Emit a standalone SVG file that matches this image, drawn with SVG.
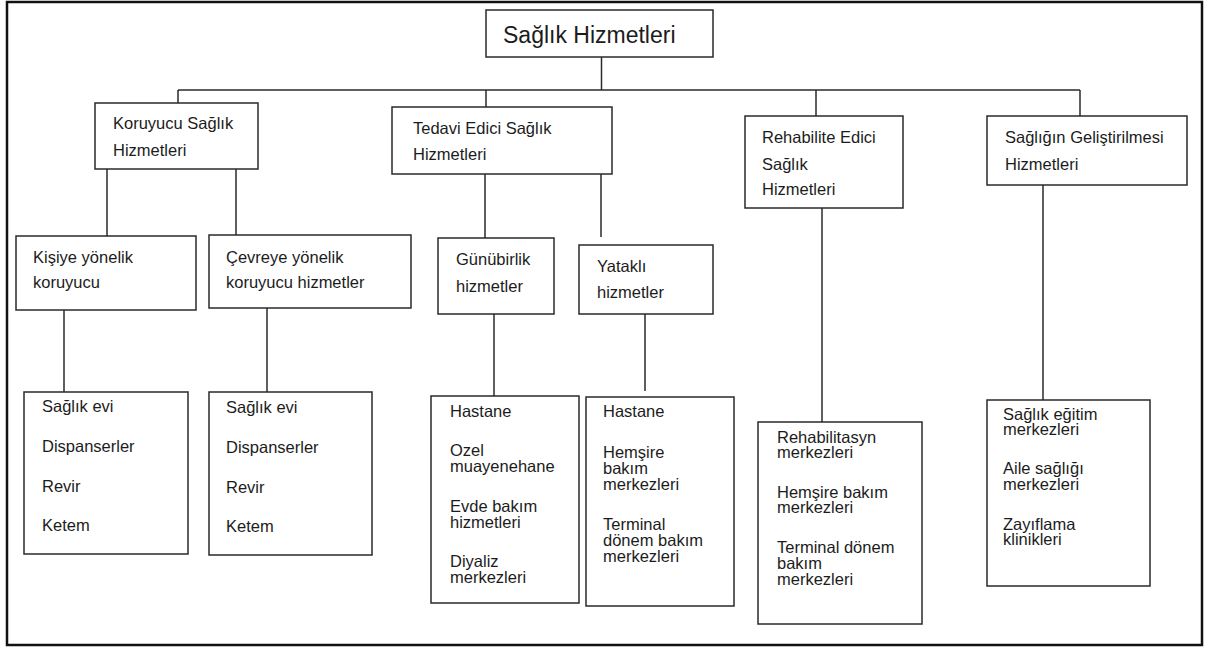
<svg xmlns="http://www.w3.org/2000/svg" width="1205" height="648" viewBox="0 0 1205 648">
  <style>
    .box { fill: #ffffff; stroke: #2a2a2a; stroke-width: 1.5; }
    .frame { fill: #ffffff; stroke: #111111; stroke-width: 2.5; }
    .link { fill: none; stroke: #2a2a2a; stroke-width: 1.5; }
    text { font-family: "Liberation Sans", Arial, sans-serif; fill: #1c1c1c; }
    .t1 { font-size: 16.5px; }
    .t3 { font-size: 16.5px; }
    .root { font-size: 23px; }
  </style>

  <!-- outer frame -->
  <rect class="frame" x="7" y="2" width="1195" height="643"/>

  <!-- connectors -->
  <g id="connectors">
    <path class="link" d="M601.5 57 V90"/>
    <path class="link" d="M178 90 H1080"/>
    <path class="link" d="M178 90 V103"/>
    <path class="link" d="M486 90 V107"/>
    <path class="link" d="M816 90 V116"/>
    <path class="link" d="M1080 90 V116"/>
    <path class="link" d="M107 169 V236"/>
    <path class="link" d="M236 169 V235"/>
    <path class="link" d="M485 174 V238"/>
    <path class="link" d="M601 174 V237"/>
    <path class="link" d="M64 310 V392"/>
    <path class="link" d="M267 308 V392"/>
    <path class="link" d="M494 314 V396"/>
    <path class="link" d="M645 314 V391"/>
    <path class="link" d="M822 208 V422"/>
    <path class="link" d="M1043 185 V400"/>
  </g>

  <!-- root -->
  <g id="saglik-hizmetleri">
    <rect class="box" x="486" y="10" width="227" height="47"/>
    <text class="root" x="503" y="43">Sağlık Hizmetleri</text>
  </g>

  <!-- level 1 -->
  <g id="koruyucu">
    <rect class="box" x="95" y="103" width="163" height="66"/>
    <text class="t1" x="113" y="129">Koruyucu Sağlık</text>
    <text class="t1" x="113" y="156">Hizmetleri</text>
  </g>
  <g id="tedavi-edici">
    <rect class="box" x="392" y="107" width="220" height="67"/>
    <text class="t1" x="413" y="134">Tedavi Edici Sağlık</text>
    <text class="t1" x="413" y="160">Hizmetleri</text>
  </g>
  <g id="rehabilite-edici">
    <rect class="box" x="745" y="116" width="158" height="92"/>
    <text class="t1" x="762" y="143">Rehabilite Edici</text>
    <text class="t1" x="762" y="170">Sağlık</text>
    <text class="t1" x="762" y="195">Hizmetleri</text>
  </g>
  <g id="sagligin-gelistirilmesi">
    <rect class="box" x="987" y="116" width="200" height="69"/>
    <text class="t1" x="1005" y="143">Sağlığın Geliştirilmesi</text>
    <text class="t1" x="1005" y="170">Hizmetleri</text>
  </g>

  <!-- level 2 -->
  <g id="kisiye-yonelik">
    <rect class="box" x="16" y="236" width="180" height="74"/>
    <text class="t1" x="33" y="263">Kişiye yönelik</text>
    <text class="t1" x="33" y="288">koruyucu</text>
  </g>
  <g id="cevreye-yonelik">
    <rect class="box" x="209" y="235" width="202" height="73"/>
    <text class="t1" x="226" y="263">Çevreye yönelik</text>
    <text class="t1" x="226" y="288">koruyucu hizmetler</text>
  </g>
  <g id="gunubirlik">
    <rect class="box" x="438" y="238" width="116" height="76"/>
    <text class="t1" x="456" y="265">Günübirlik</text>
    <text class="t1" x="456" y="292">hizmetler</text>
  </g>
  <g id="yatakli">
    <rect class="box" x="579" y="245" width="134" height="69"/>
    <text class="t1" x="597" y="272">Yataklı</text>
    <text class="t1" x="597" y="298">hizmetler</text>
  </g>

  <!-- level 3 -->
  <g id="kisiye-kurumlar">
    <rect class="box" x="24" y="392" width="164" height="162"/>
    <text class="t3" x="42" y="412">Sağlık evi</text>
    <text class="t3" x="42" y="452">Dispanserler</text>
    <text class="t3" x="42" y="492">Revir</text>
    <text class="t3" x="42" y="531">Ketem</text>
  </g>
  <g id="cevreye-kurumlar">
    <rect class="box" x="209" y="392" width="163" height="163"/>
    <text class="t3" x="226" y="413">Sağlık evi</text>
    <text class="t3" x="226" y="453">Dispanserler</text>
    <text class="t3" x="226" y="493">Revir</text>
    <text class="t3" x="226" y="532">Ketem</text>
  </g>
  <g id="gunubirlik-kurumlar">
    <rect class="box" x="431" y="396" width="148" height="207"/>
    <text class="t3" x="450" y="417">Hastane</text>
    <text class="t3" x="450" y="456">Ozel</text>
    <text class="t3" x="450" y="472">muayenehane</text>
    <text class="t3" x="450" y="512">Evde bakım</text>
    <text class="t3" x="450" y="528">hizmetleri</text>
    <text class="t3" x="450" y="567">Diyaliz</text>
    <text class="t3" x="450" y="583">merkezleri</text>
  </g>
  <g id="yatakli-kurumlar">
    <rect class="box" x="586" y="397" width="148" height="209"/>
    <text class="t3" x="603" y="417">Hastane</text>
    <text class="t3" x="603" y="458">Hemşire</text>
    <text class="t3" x="603" y="474">bakım</text>
    <text class="t3" x="603" y="490">merkezleri</text>
    <text class="t3" x="603" y="530">Terminal</text>
    <text class="t3" x="603" y="546">dönem bakım</text>
    <text class="t3" x="603" y="562">merkezleri</text>
  </g>
  <g id="rehabilitasyon-kurumlar">
    <rect class="box" x="758" y="422" width="164" height="202"/>
    <text class="t3" x="777" y="443">Rehabilitasyn</text>
    <text class="t3" x="777" y="458">merkezleri</text>
    <text class="t3" x="777" y="498">Hemşire bakım</text>
    <text class="t3" x="777" y="513">merkezleri</text>
    <text class="t3" x="777" y="553">Terminal dönem</text>
    <text class="t3" x="777" y="569">bakım</text>
    <text class="t3" x="777" y="585">merkezleri</text>
  </g>
  <g id="gelistirme-kurumlar">
    <rect class="box" x="987" y="400" width="163" height="186"/>
    <text class="t3" x="1003" y="420">Sağlık eğitim</text>
    <text class="t3" x="1003" y="435">merkezleri</text>
    <text class="t3" x="1003" y="474">Aile sağlığı</text>
    <text class="t3" x="1003" y="490">merkezleri</text>
    <text class="t3" x="1003" y="530">Zayıflama</text>
    <text class="t3" x="1003" y="545">klinikleri</text>
  </g>
</svg>
